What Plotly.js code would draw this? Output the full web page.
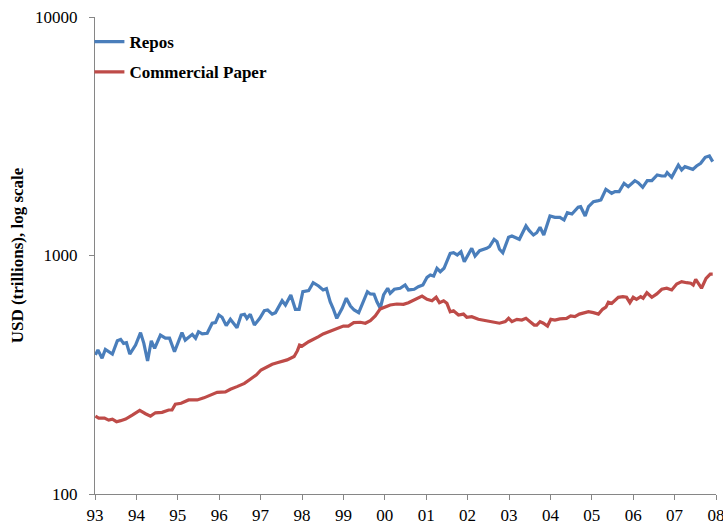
<!DOCTYPE html>
<html>
<head>
<meta charset="utf-8">
<script src="https://cdn.plot.ly/plotly-3.0.1.min.js"></script>
<style>
  html, body { margin: 0; padding: 0; background: #ffffff; }
  #chart { width: 723px; height: 526px; }
</style>
</head>
<body>
<div id="chart"></div>
<script>
// ---- Data ----
const reposYears = [
  1993.01,1993.07,1993.17,1993.25,1993.42,1993.54,1993.62,1993.69,1993.76,1993.84,
  1993.98,1994.10,1994.18,1994.27,1994.36,1994.44,1994.58,1994.70,1994.80,1994.92,
  1995.10,1995.18,1995.35,1995.43,1995.50,1995.59,1995.71,1995.83,1995.91,1995.99,
  1996.07,1996.17,1996.27,1996.43,1996.53,1996.61,1996.67,1996.75,1996.85,1996.98,
  1997.09,1997.17,1997.28,1997.36,1997.52,1997.60,1997.73,1997.84,1997.93,1998.02,
  1998.16,1998.27,1998.40,1998.51,1998.59,1998.68,1998.75,1998.84,1998.97,1999.07,
  1999.17,1999.26,1999.37,1999.47,1999.58,1999.65,1999.74,1999.81,1999.89,1999.97,
  2000.07,2000.13,2000.23,2000.37,2000.49,2000.57,2000.71,2000.81,2000.92,2001.02,
  2001.10,2001.18,2001.26,2001.34,2001.43,2001.58,2001.66,2001.75,2001.84,2001.92,
  2002.10,2002.18,2002.29,2002.46,2002.53,2002.64,2002.71,2002.77,2002.85,2002.99,
  2003.07,2003.25,2003.41,2003.49,2003.59,2003.67,2003.75,2003.84,2003.99,2004.11,
  2004.23,2004.33,2004.41,2004.52,2004.67,2004.73,2004.84,2004.92,2005.04,2005.16,
  2005.22,2005.34,2005.48,2005.56,2005.66,2005.78,2005.88,2006.04,2006.12,2006.23,
  2006.34,2006.45,2006.58,2006.69,2006.77,2006.82,2006.93,2007.09,2007.17,2007.25,
  2007.44,2007.53,2007.63,2007.74,2007.84,2007.92
];
const reposValues = [
  383,402,371,404,386,439,445,428,431,386,
  421,475,428,361,439,408,464,450,450,395,
  475,442,467,450,479,469,472,520,523,563,
  551,508,540,498,563,567,545,567,511,545,
  587,591,568,576,646,620,683,595,595,705,
  712,769,745,717,726,640,601,545,601,662,
  614,591,576,640,705,690,688,640,601,683,
  729,694,722,729,752,717,722,740,752,810,
  828,820,884,855,884,1021,1027,1005,1037,942,
  1072,995,1047,1072,1089,1169,1143,1062,1027,1192,
  1207,1169,1330,1271,1219,1246,1313,1219,1464,1446,
  1446,1409,1512,1493,1593,1602,1464,1602,1681,1698,
  1710,1895,1823,1852,1852,2008,1944,2059,2020,1932,
  2059,2059,2176,2154,2154,2225,2128,2396,2283,2357,
  2298,2373,2436,2580,2614,2474
];
const cpYears = [
  1993.01,1993.09,1993.23,1993.33,1993.42,1993.52,1993.62,1993.74,1993.90,1994.08,
  1994.22,1994.34,1994.46,1994.62,1994.78,1994.86,1994.94,1995.08,1995.26,1995.47,
  1995.63,1995.79,1995.95,1996.15,1996.27,1996.43,1996.61,1996.75,1996.90,1997.01,
  1997.16,1997.28,1997.40,1997.52,1997.64,1997.81,1997.89,1997.94,1998.00,1998.16,
  1998.28,1998.40,1998.51,1998.64,1998.76,1998.88,1999.00,1999.12,1999.25,1999.41,
  1999.53,1999.65,1999.77,1999.89,2000.01,2000.13,2000.29,2000.45,2000.57,2000.73,
  2000.90,2001.02,2001.14,2001.24,2001.32,2001.42,2001.50,2001.58,2001.66,2001.78,
  2001.90,2001.98,2002.10,2002.26,2002.46,2002.66,2002.77,2002.91,2002.99,2003.07,
  2003.19,2003.31,2003.41,2003.51,2003.61,2003.67,2003.75,2003.83,2003.93,2004.01,
  2004.11,2004.23,2004.39,2004.49,2004.59,2004.70,2004.92,2005.04,2005.16,2005.26,
  2005.34,2005.40,2005.48,2005.64,2005.75,2005.84,2005.92,2006.00,2006.08,2006.18,
  2006.24,2006.33,2006.45,2006.57,2006.69,2006.81,2006.93,2007.05,2007.17,2007.29,
  2007.39,2007.45,2007.51,2007.65,2007.76,2007.86,2007.92
];
const cpValues = [
  212,208,208,204,206,201,203,206,214,224,
  217,212,219,220,225,225,238,240,248,248,
  253,260,267,268,275,282,291,303,316,331,
  342,350,355,361,365,377,399,421,417,435,
  445,457,469,479,487,495,506,506,523,525,
  520,533,558,597,607,620,626,624,634,655,
  676,655,646,668,634,646,630,581,587,563,
  568,551,554,540,533,525,520,528,545,528,
  540,536,545,528,511,511,528,520,506,540,
  536,542,545,558,554,568,581,576,568,595,
  607,637,630,668,672,668,634,668,655,672,
  662,698,668,690,722,729,717,760,777,769,
  765,752,795,729,802,836,836
];
const xTickVals = [1993,1994,1995,1996,1997,1998,1999,2000,2001,2002,2003,2004,2005,2006,2007,2008];
const xTickText = ['93','94','95','96','97','98','99','00','01','02','03','04','05','06','07','08'];
const yTickVals = [100, 1000, 10000];
const yTickText = ['100', '1000', '10000'];

const serif = 'Liberation Serif, Times New Roman, serif';
const axisGrey = '#868686';

const traces = [
  {
    x: reposYears, y: reposValues, name: 'Repos', type: 'scatter', mode: 'lines',
    legendgroup: 'a',
    line: { color: '#4A7EBB', width: 3.2 }
  },
  {
    x: cpYears, y: cpValues, name: 'Commercial Paper', type: 'scatter', mode: 'lines',
    legendgroup: 'b',
    line: { color: '#BE4B48', width: 3.2 }
  }
];

const layout = {
  width: 723, height: 526,
  margin: { l: 94.5, r: 7, t: 17, b: 32 },
  paper_bgcolor: '#ffffff', plot_bgcolor: '#ffffff',
  font: { family: serif, size: 17, color: '#000000' },
  showlegend: true,
  legend: {
    x: -0.009, y: 0.985, xanchor: 'left', yanchor: 'top',
    bgcolor: 'rgba(0,0,0,0)',
    font: { family: serif, size: 17, color: '#000000', weight: 'bold' },
    traceorder: 'grouped', tracegroupgap: 5
  },
  xaxis: {
    range: [1993, 2008], tickmode: 'array', tickvals: xTickVals, ticktext: xTickText,
    showgrid: false, zeroline: false, showline: true, linecolor: axisGrey, linewidth: 1,
    ticks: 'outside', ticklen: 5, tickcolor: axisGrey, tickwidth: 1,
    tickfont: { family: serif, size: 17, color: '#000000' },
    ticklabelstandoff: 1, ticklabeloverflow: 'allow'
  },
  yaxis: {
    type: 'log', range: [2, 4], tickmode: 'array', tickvals: yTickVals, ticktext: yTickText,
    showgrid: false, zeroline: false, showline: true, linecolor: axisGrey, linewidth: 1,
    ticks: 'outside', ticklen: 5, tickcolor: axisGrey, tickwidth: 1,
    tickfont: { family: serif, size: 17, color: '#000000' },
    ticklabelstandoff: 8,
    title: { text: 'USD (trillions), log scale', font: { family: serif, size: 17, color: '#000000', weight: 'bold' }, standoff: 7 }
  }
};

Plotly.newPlot('chart', traces, layout, { displayModeBar: false, staticPlot: true });
</script>
</body>
</html>
